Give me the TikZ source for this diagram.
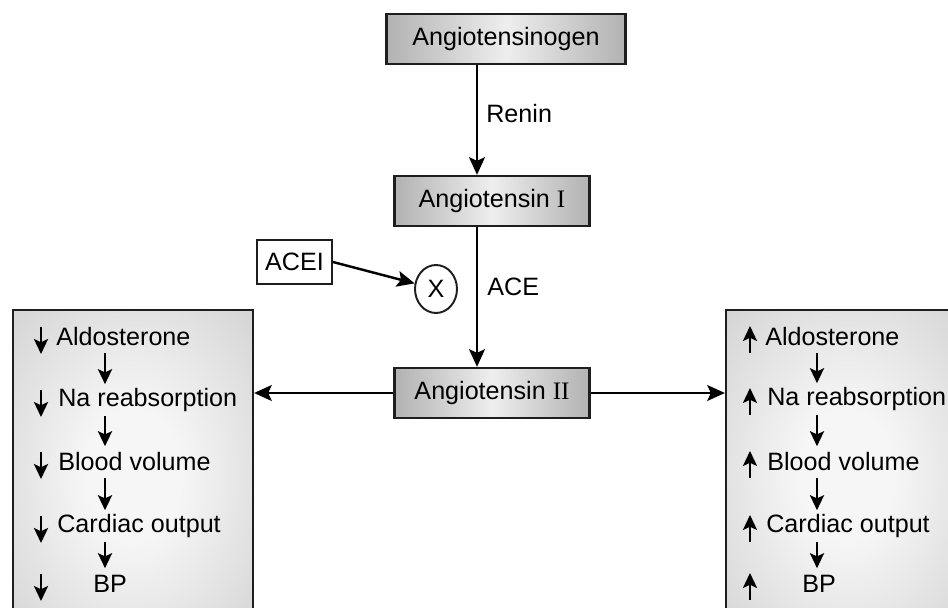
\documentclass[tikz,border=0pt]{standalone}
\usepackage{fontspec}
\setmainfont{Liberation Sans}
\newfontfamily\romannum{Liberation Serif}
\usetikzlibrary{arrows.meta,shapes.geometric}
\definecolor{edgegrey}{RGB}{30,30,30}
\definecolor{stagegrey}{RGB}{178,178,178}
\definecolor{stagelight}{RGB}{238,238,238}
\definecolor{panelgrey}{RGB}{204,204,204}
\definecolor{panelglow}{RGB}{246,246,246}
\pgfdeclareradialshading{panelshade}{\pgfpoint{0bp}{0bp}}{color(0bp)=(panelglow);
  color(10bp)=(panelglow); color(42bp)=(panelgrey); color(80bp)=(panelgrey)}
\newcommand{\drawconn}{\draw[line width=1.4pt,-{Stealth[length=10pt,width=9pt,inset=2pt]}]}
\newcommand{\drawsmall}{\draw[line width=1.4pt,-{Stealth[length=8.5pt,width=8pt,inset=1.8pt]}]}
\tikzset{
  stagebox/.style={draw=edgegrey, line width=1.3pt, left color=stagegrey, right color=stagegrey,
    middle color=stagelight, minimum height=1cm, font=\fontsize{14.3}{16}\selectfont},
  panelbox/.style={draw=edgegrey, line width=1.3pt, shading=panelshade,
    minimum width=4.8cm, minimum height=6.6cm},
  plainbox/.style={draw=edgegrey, line width=1.1pt, fill=white, font=\fontsize{14.3}{16}\selectfont},
  label/.style={anchor=west, inner sep=0pt, font=\fontsize{14.3}{16}\selectfont},
  effect/.style={anchor=west, inner sep=0pt, font=\fontsize{14.3}{16}\selectfont}
}

\begin{document}
\begin{tikzpicture}[x=0.02cm,y=-0.02cm]
\useasboundingbox (0,0) rectangle (948,608);
\clip (0,0) rectangle (948,608);
% cascade
\node[stagebox, minimum width=4.78cm] (agen) at (506,39) {Angiotensinogen};
\node[stagebox, minimum width=3.9cm] (ang1) at (492,201) {Angiotensin {\romannum I}};
\node[stagebox, minimum width=3.9cm] (ang2) at (492,393) {Angiotensin {\romannum II}};
\coordinate (axis) at (477,0);
\drawconn (agen.south -| axis) -- (ang1.north -| axis);
\drawconn (ang1.south -| axis) -- (ang2.north -| axis);
\node[label] (renin) at (486,114) {Renin};
\node[label] (ace) at (487,287) {ACE};
% inhibitor
\node[plainbox, minimum width=1.5cm, minimum height=0.88cm] (acei) at (294.5,262) {ACEI};
\node[plainbox, ellipse, minimum width=0.84cm, minimum height=0.96cm, inner sep=0pt] (block) at (436,289) {X};
\drawconn (acei.east) -- (block);
% effect panels
\node[panelbox] (fall) at (133,475) {};
\node[panelbox] (rise) at (846,475) {};
\drawconn (ang2.west) -- (ang2.west -| fall.east);
\drawconn (ang2.east) -- (ang2.east -| rise.west);
\coordinate (fallaxis) at (105,0);
\coordinate (riseaxis) at (817,0);
\foreach \txt/\x/\y [count=\n] in {Aldosterone/56/337, Na reabsorption/58/400,
    Blood volume/58/462, Cardiac output/57/526, BP/93/584}{
  \node[effect] (fall\n) at (\x,\y) {\txt};
  \drawsmall (41,\y-10) -- (41,\y+17);
}
\foreach \txt/\x/\y [count=\n] in {Aldosterone/765/337, Na reabsorption/767/399,
    Blood volume/767/462, Cardiac output/766/526, BP/802/584}{
  \node[effect] (rise\n) at (\x,\y) {\txt};
  \drawsmall (750,\y+16) -- (750,\y-11);
}
\foreach \a/\b in {1/2,2/3,3/4,4/5}{
  \drawsmall[shorten <=9pt, shorten >=9pt] (fall\a -| fallaxis) -- (fall\b -| fallaxis);
  \drawsmall[shorten <=9pt, shorten >=9pt] (rise\a -| riseaxis) -- (rise\b -| riseaxis);
}
\end{tikzpicture}
\end{document}
